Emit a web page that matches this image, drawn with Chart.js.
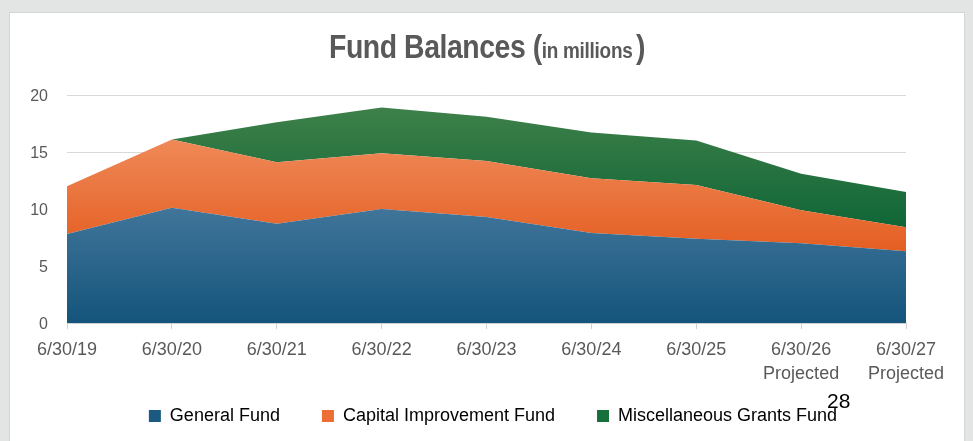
<!DOCTYPE html>
<html>
<head>
<meta charset="utf-8">
<script src="https://cdn.jsdelivr.net/npm/chart.js@4.4.1/dist/chart.umd.min.js"></script>
<style>
    html, body { margin: 0; padding: 0; }
    body { width: 973px; height: 441px; background: #e3e5e4; position: relative; overflow: hidden; }
    #panel { position: absolute; left: 9px; top: 12px; width: 954px; height: 440px; background: #fff; border: 1px solid #d4d6d5; }
    #wrap { position: absolute; left: 0; top: 0; width: 973px; height: 441px; }
    #title { position: absolute; left: 0; width: 973px; top: 28px; text-align: center; color: #595959;
             font-family: "Liberation Sans", Arial, sans-serif; font-weight: bold; white-space: nowrap;
             transform: scaleX(0.86); transform-origin: 490px 0; }
    #title .big { font-size: 33px; letter-spacing: -0.5px; }
    #title .small { font-size: 22px; letter-spacing: -0.3px; margin-right: 4px; }
    #page { position: absolute; left: 827px; top: 389px; font-family: "Liberation Sans", Arial, sans-serif; font-size: 21px; color: #000; }
</style>
</head>
<body>
<div id="panel"></div>
<div id="wrap"><canvas id="fund-chart" width="973" height="441"></canvas></div>
<div id="title"><span class="big">Fund Balances </span><span class="big">(</span><span class="small">in millions</span><span class="big">)</span></div>
<div id="page">28</div>
<script>
// Data (millions)
const labels = ['6/30/19', '6/30/20', '6/30/21', '6/30/22', '6/30/23', '6/30/24', '6/30/25',
    ['6/30/26', 'Projected'], ['6/30/27', 'Projected']];
const generalFund = [7.8, 10.1, 8.7, 10.0, 9.3, 7.9, 7.4, 7.0, 6.3];
const capitalFund = [4.2, 6.0, 5.4, 4.9, 4.9, 4.8, 4.7, 2.9, 2.1];
const grantsFund = [0, 0, 3.5, 4.0, 3.9, 4.0, 3.9, 3.2, 3.1];
const yTicks = [0, 5, 10, 15, 20];

const seriesList = [generalFund, capitalFund, grantsFund];
// gradient colours: [top, bottom]
const gradColors = [
    ['#41759a', '#14547b'],
    ['#ef8958', '#e45e22'],
    ['#3e8049', '#106637']
];

// gradient spans the band's bounding box, like the office chart
function bandFill(ctx) {
    const chart = ctx.chart;
    const area = chart.chartArea;
    const i = ctx.datasetIndex;
    if (!area) return gradColors[i][1];
    const y = chart.scales.y;
    let top = 0, bottom = Infinity;
    for (let k = 0; k < labels.length; k++) {
        let below = 0;
        for (let s = 0; s < i; s++) below += seriesList[s][k];
        const above = below + seriesList[i][k];
        top = Math.max(top, above);
        bottom = Math.min(bottom, below);
    }
    const g = chart.ctx.createLinearGradient(0, y.getPixelForValue(top), 0, y.getPixelForValue(bottom));
    g.addColorStop(0, gradColors[i][0]);
    g.addColorStop(1, gradColors[i][1]);
    return g;
}

const legendColors = ['#1a5a82', '#ec6e34', '#17703a'];
const font = '"Liberation Sans", Arial, sans-serif';

// nudge the legend a bit right, it is not centred on the plot in the original
const legendShift = {
    id: 'legendShift',
    afterLayout(chart) {
        if (chart.legend) {
            chart.legend.left += 40;
            chart.legend.right += 40;
        }
    }
};

new Chart('fund-chart', {
    type: 'line',
    data: {
        labels: labels,
        datasets: [
            { label: 'General Fund', data: generalFund, fill: 'origin' },
            { label: 'Capital Improvement Fund', data: capitalFund, fill: '-1' },
            { label: 'Miscellaneous Grants Fund', data: grantsFund, fill: '-1' }
        ].map(d => Object.assign(d, {
            backgroundColor: bandFill,
            borderWidth: 0,
            borderColor: 'rgba(0,0,0,0)',
            pointRadius: 0,
            pointHoverRadius: 0,
            tension: 0
        }))
    },
    plugins: [legendShift],
    options: {
        responsive: false,
        animation: false,
        layout: { padding: { left: 0, right: 67, top: 95, bottom: 6 } },
        plugins: {
            tooltip: { enabled: false },
            legend: {
                display: true,
                position: 'bottom',
                labels: {
                    boxWidth: 12,
                    boxHeight: 12,
                    padding: 42,
                    color: '#595959',
                    font: { family: font, size: 18 },
                    generateLabels: chart => chart.data.datasets.map((d, i) => ({
                        text: d.label,
                        fillStyle: legendColors[i],
                        strokeStyle: legendColors[i],
                        lineWidth: 0,
                        datasetIndex: i
                    }))
                }
            }
        },
        scales: {
            x: {
                offset: false,
                grid: { drawOnChartArea: false, drawTicks: true, tickLength: 6, color: '#d0d0d0' },
                border: { display: true, color: '#d0d0d0' },
                ticks: {
                    color: '#595959',
                    padding: 9,
                    maxRotation: 0,
                    autoSkip: false,
                    font: { family: font, size: 18, lineHeight: 1.33 }
                },
                afterFit: scale => {
                    scale.height = 42;
                    // let the "Projected" line spill below the axis box
                    scale._computeLabelArea = () => undefined;
                }
            },
            y: {
                stacked: true,
                min: 0,
                max: 20,
                afterBuildTicks: scale => { scale.ticks = yTicks.map(v => ({ value: v })); },
                grid: { drawTicks: false, color: '#d9d9d9' },
                border: { display: false },
                ticks: {
                    color: '#595959',
                    padding: 19,
                    labelOffset: 2,
                    font: { family: font, size: 16 }
                },
                afterFit: scale => { scale.width = 67; }
            }
        }
    }
});
</script>
</body>
</html>
